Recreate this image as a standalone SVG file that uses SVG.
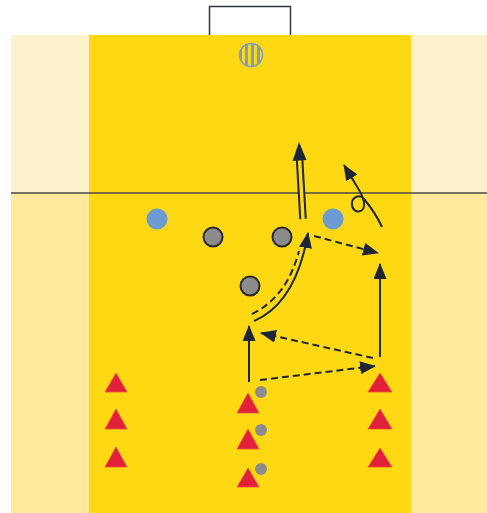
<svg xmlns="http://www.w3.org/2000/svg" width="487" height="513" viewBox="0 0 487 513">
  <defs>
    <marker id="ah" viewBox="0 0 16 13" refX="15" refY="6.5" markerWidth="16" markerHeight="13" markerUnits="userSpaceOnUse" orient="auto">
      <path d="M0,0 L16,6.5 L0,13 Z" fill="#1e2636"/>
    </marker>
    <pattern id="stripes" patternUnits="userSpaceOnUse" x="239" y="0" width="6" height="10">
      <rect x="0" y="0" width="6" height="10" fill="#fed813"/>
      <rect x="0" y="0" width="3" height="10" fill="#7d9fc6"/>
    </pattern>
  </defs>
  <style>
    .red { fill: #e3203c; stroke: #e8552c; stroke-width: 0.8; stroke-linejoin: round; }
    .blue { fill: #6e9bd0; }
    .grey { fill: #8b8b8b; stroke: #2a2a2a; stroke-width: 2; }
    .ball { fill: #8c8c8c; }
    .ln { fill: none; stroke: #1e2636; stroke-width: 2; }
    .dash { fill: none; stroke: #1e2636; stroke-width: 2; stroke-dasharray: 7 4; }
  </style>

  <g id="field">
    <rect x="0" y="0" width="487" height="513" fill="#ffffff"/>
    <rect x="11" y="35" width="476" height="158" fill="#fef2cd"/>
    <rect x="11" y="193" width="476" height="320" fill="#fee99c"/>
    <rect x="89" y="35" width="322" height="478" fill="#fed813"/>
    <line x1="11" y1="193" x2="487" y2="193" stroke="#4a4a48" stroke-width="1.6"/>
    <path d="M209.5,35 V6.5 H290.5 V35" fill="#ffffff" stroke="#333640" stroke-width="1.5"/>
  </g>

  <g id="goalkeeper">
    <circle cx="251" cy="55" r="11.5" fill="url(#stripes)" stroke="#7d9fc6" stroke-width="1.5"/>
  </g>

  <g id="defenders">
    <circle id="blue1" class="blue" cx="157" cy="219" r="10.5"/>
    <circle id="blue2" class="blue" cx="333" cy="219" r="10.5"/>
  </g>

  <g id="players">
    <circle id="grey1" class="grey" cx="213" cy="237" r="9.5"/>
    <circle id="grey2" class="grey" cx="282" cy="237" r="9.5"/>
    <circle id="grey3" class="grey" cx="250" cy="286" r="9.5"/>
  </g>

  <g id="cones">
    <polygon id="tl1" class="red" points="116,373 105,392 127,392"/>
    <polygon id="tl2" class="red" points="116,409 105,429 127,429"/>
    <polygon id="tl3" class="red" points="116,447 105,467 127,467"/>
    <polygon id="tm1" class="red" points="248,393 237,413 259,413"/>
    <polygon id="tm2" class="red" points="248,429 237,449 259,449"/>
    <polygon id="tm3" class="red" points="248,468 237,487 259,487"/>
    <polygon id="tr1" class="red" points="380,373 368,392 392,392"/>
    <polygon id="tr2" class="red" points="380,409 368,429 392,429"/>
    <polygon id="tr3" class="red" points="380,448 368,467 392,467"/>
  </g>

  <g id="balls">
    <circle class="ball" cx="261" cy="392" r="6"/>
    <circle class="ball" cx="261" cy="430" r="6"/>
    <circle class="ball" cx="261" cy="469" r="6"/>
  </g>

  <g id="connectors">
    <line class="ln" x1="249" y1="382" x2="249" y2="326" marker-end="url(#ah)"/>
    <line class="dash" x1="260" y1="380" x2="375" y2="366" marker-end="url(#ah)"/>
    <line class="dash" x1="373" y1="358" x2="261" y2="333" marker-end="url(#ah)"/>
    <line class="ln" x1="380" y1="357" x2="380" y2="264" marker-end="url(#ah)"/>
    <line class="dash" x1="314" y1="236" x2="378" y2="253" marker-end="url(#ah)"/>
    <path class="ln" d="M254,321 Q296,303 308,233" marker-end="url(#ah)"/>
    <path class="dash" d="M252,314 Q287,297 299,251"/>
    <g id="double-arrow">
      <line x1="303" y1="219" x2="299.5" y2="158" stroke="#1e2636" stroke-width="7.5"/>
      <line x1="303" y1="219" x2="299.5" y2="158" stroke="#fed813" stroke-width="3.5"/>
      <polygon points="299,142 292.5,161 306.5,160" fill="#1e2636"/>
    </g>
    <path class="ln" d="M382,227 C376,214 369,205 364,199 C359,193 351,198 352,205 C353,213 363,214 364,206 C365,199 360,191 356,185 L344,165" marker-end="url(#ah)"/>
  </g>
</svg>
